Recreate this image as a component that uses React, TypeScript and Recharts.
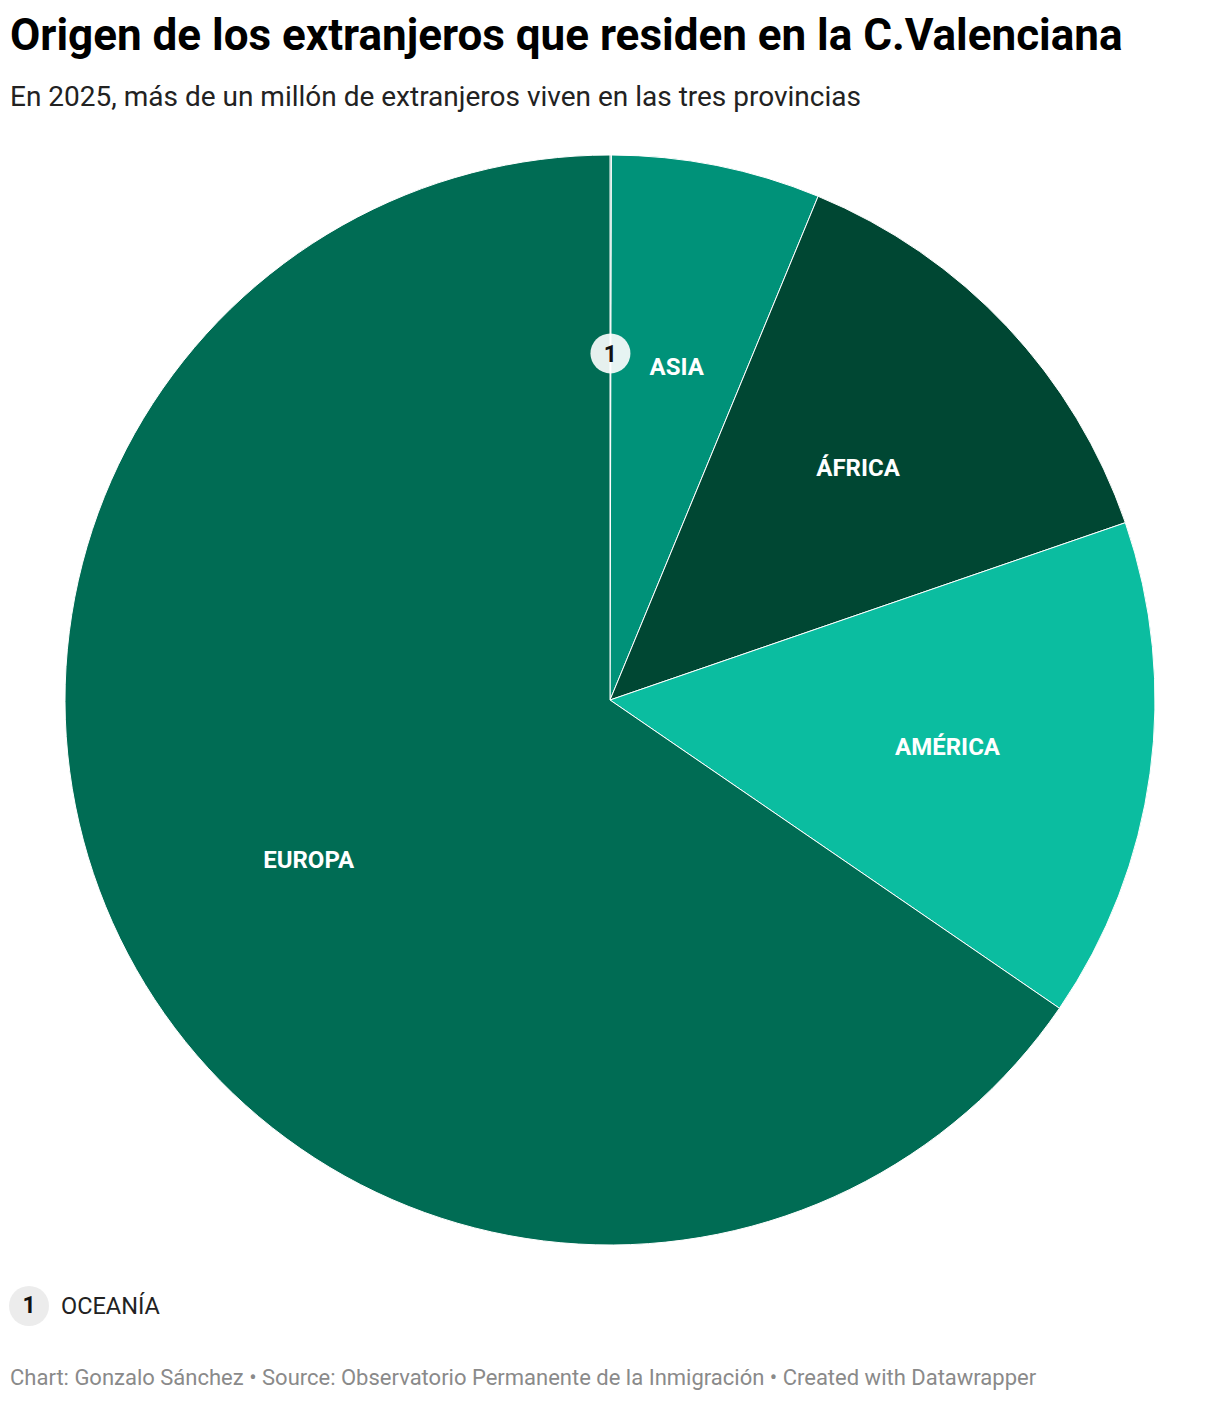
import React from "react";
import { PieChart, Pie, Cell } from "recharts";

const regions = ["OCEANÍA", "ASIA", "ÁFRICA", "AMÉRICA", "EUROPA"];
const residents = [450, 66900, 145700, 160300, 706700];
const markers = ["1", "", "", "", ""];
const sliceColors = ["#006c54", "#009279", "#004733", "#0bbda0", "#006c54"];

const title = "Origen de los extranjeros que residen en la C.Valenciana";
const subtitle = "En 2025, más de un millón de extranjeros viven en las tres provincias";
const footer =
  "Chart: Gonzalo Sánchez • Source: Observatorio Permanente de la Inmigración • Created with Datawrapper";

const data = regions.map((name, i) => ({ name, value: residents[i], marker: markers[i] }));

const RAD = Math.PI / 180;

const renderLabel = (props: any) => {
  const { cx, cy, midAngle, outerRadius, index } = props;
  const r = outerRadius * 0.625;
  const x = cx + r * Math.cos(-midAngle * RAD);
  const y = cy + r * Math.sin(-midAngle * RAD);
  const d = data[index];
  if (d.marker) {
    return (
      <g key={`lbl-${index}`}>
        <circle cx={x} cy={y - 6} r={20} fill="#ffffff" fillOpacity={0.9} />
        <text
          x={x}
          y={y - 5}
          textAnchor="middle"
          dominantBaseline="central"
          fontFamily="Roboto"
          fontWeight={700}
          fontSize={23}
          fill="#111"
        >
          {d.marker}
        </text>
      </g>
    );
  }
  return (
    <text
      key={`lbl-${index}`}
      x={x}
      y={y + 1}
      textAnchor="middle"
      dominantBaseline="central"
      fontFamily="Roboto"
      fontWeight={700}
      fontSize={24}
      fill="#ffffff"
    >
      {d.name}
    </text>
  );
};

export default function App() {
  return (
    <div
      style={{
        position: "absolute",
        left: 0,
        top: 0,
        width: 1220,
        height: 1402,
        background: "#fff",
        fontFamily: "Roboto, sans-serif",
        overflow: "hidden",
      }}
    >
      <div
        style={{
          position: "absolute",
          left: 10,
          top: 9,
          fontSize: 44,
          fontWeight: 700,
          color: "#000",
          whiteSpace: "nowrap",
          lineHeight: "52px",
        }}
      >
        {title}
      </div>
      <div
        style={{
          position: "absolute",
          left: 10,
          top: 80,
          fontSize: 28,
          color: "#222",
          whiteSpace: "nowrap",
          lineHeight: "33px",
        }}
      >
        {subtitle}
      </div>
      <div style={{ position: "absolute", left: 0, top: 0 }}>
        <PieChart width={1220} height={1402} margin={{ top: 0, right: 0, bottom: 0, left: 0 }}>
          <Pie
            data={data}
            dataKey="value"
            nameKey="name"
            cx={610}
            cy={700}
            outerRadius={545}
            innerRadius={0}
            startAngle={90}
            endAngle={-270}
            stroke="#ffffff"
            strokeWidth={1}
            paddingAngle={0}
            label={renderLabel}
            labelLine={false}
            isAnimationActive={false}
          >
            {data.map((d, i) => (
              <Cell key={d.name} fill={sliceColors[i]} />
            ))}
          </Pie>
        </PieChart>
      </div>
      <div
        style={{
          position: "absolute",
          left: 9,
          top: 1286,
          width: 40,
          height: 40,
          borderRadius: 20,
          background: "#ececec",
          color: "#111",
          fontWeight: 700,
          fontSize: 23,
          lineHeight: "40px",
          textAlign: "center",
        }}
      >
        {markers[0]}
      </div>
      <div
        style={{
          position: "absolute",
          left: 61,
          top: 1292,
          fontSize: 23.5,
          color: "#222",
          whiteSpace: "nowrap",
          lineHeight: "28px",
        }}
      >
        {regions[0]}
      </div>
      <div
        style={{
          position: "absolute",
          left: 10,
          top: 1365,
          fontSize: 22,
          color: "#8a8a8a",
          whiteSpace: "nowrap",
          lineHeight: "26px",
        }}
      >
        {footer}
      </div>
    </div>
  );
}
